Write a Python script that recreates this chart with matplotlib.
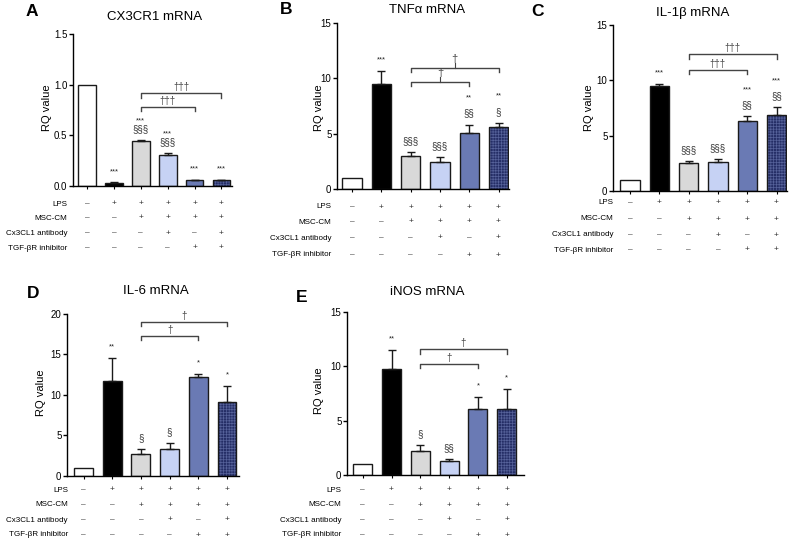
import matplotlib
matplotlib.use("Agg")
import matplotlib.pyplot as plt
import matplotlib.transforms as mtransforms

plt.rcParams['font.family'] = ['Liberation Sans', 'DejaVu Sans']
plt.rcParams['hatch.linewidth'] = 0.5

W, H = 793, 542

# condition table below every panel
row_labels = ["LPS", "MSC-CM", "Cx3CL1 antibody", "TGF-\u03b2R inhibitor"]
lps = ["\u2013", "+", "+", "+", "+", "+"]
msc_cm = ["\u2013", "\u2013", "+", "+", "+", "+"]
cx3cl1_ab = ["\u2013", "\u2013", "\u2013", "+", "\u2013", "+"]
tgfbr_inh = ["\u2013", "\u2013", "\u2013", "\u2013", "+", "+"]
table_rows = [lps, msc_cm, cx3cl1_ab, tgfbr_inh]

bar_colors = ["white", "black", "#d9d9d9", "#c6d2f4", "#6a7ab4", "#252e66"]

# A: CX3CR1
cx3cr1_mean = [1.0, 0.03, 0.445, 0.305, 0.06, 0.06]
cx3cr1_err = [0, 0.005, 0.008, 0.02, 0.004, 0.004]
cx3cr1_stars = ["", "***", "***", "***", "***", "***"]
cx3cr1_sect = ["", "", "\u00a7\u00a7\u00a7", "\u00a7\u00a7\u00a7", "", ""]
cx3cr1_brackets = [(2, 4, 0.78, "\u2020\u2020\u2020"), (2, 5, 0.915, "\u2020\u2020\u2020")]

# B: TNFa
tnf_mean = [1.0, 9.5, 2.95, 2.45, 5.1, 5.6]
tnf_err = [0, 1.17, 0.36, 0.4, 0.72, 0.39]
tnf_stars = ["", "***", "", "", "**", "**"]
tnf_sect = ["", "", "\u00a7\u00a7\u00a7", "\u00a7\u00a7\u00a7", "\u00a7\u00a7", "\u00a7"]
tnf_brackets = [(2, 4, 9.7, "\u2020"), (2, 5, 10.96, "\u2020")]

# C: IL-1b
il1b_mean = [1.0, 9.45, 2.5, 2.65, 6.3, 6.85]
il1b_err = [0, 0.18, 0.2, 0.2, 0.45, 0.7]
il1b_stars = ["", "***", "", "", "***", "***"]
il1b_sect = ["", "", "\u00a7\u00a7\u00a7", "\u00a7\u00a7\u00a7", "\u00a7\u00a7", "\u00a7\u00a7"]
il1b_brackets = [(2, 4, 10.93, "\u2020\u2020\u2020"), (2, 5, 12.35, "\u2020\u2020\u2020")]

# D: IL-6
il6_mean = [1.0, 11.7, 2.7, 3.25, 12.25, 9.15]
il6_err = [0, 2.9, 0.6, 0.8, 0.35, 1.9]
il6_stars = ["", "**", "", "", "*", "*"]
il6_sect = ["", "", "\u00a7", "\u00a7", "", ""]
il6_brackets = [(2, 4, 17.3, "\u2020"), (2, 5, 19.05, "\u2020")]

# E: iNOS
inos_mean = [1.0, 9.7, 2.2, 1.32, 6.05, 6.1]
inos_err = [0, 1.75, 0.58, 0.18, 1.13, 1.83]
inos_stars = ["", "**", "", "", "*", "*"]
inos_sect = ["", "", "\u00a7", "\u00a7\u00a7", "", ""]
inos_brackets = [(2, 4, 10.24, "\u2020"), (2, 5, 11.53, "\u2020")]

# layout in pixels: axis left, axis right, first bar centre, bar spacing,
# y of zero, y of top, top value, ticks, title, letter, ylabel, table rows, label right edge
panels = [
    dict(letter="A", title="CX3CR1 mRNA", mean=cx3cr1_mean, err=cx3cr1_err,
         stars=cx3cr1_stars, sect=cx3cr1_sect, brackets=cx3cr1_brackets,
         L=73, R=232, c0=87, sp=26.9, y0=186, yt=34, ymax=1.5,
         yticks=[0.0, 0.5, 1.0, 1.5], fmt="{:.1f}", star_gap=8,
         title_xy=(155, 17), letter_xy=(32, 11), ylab_xy=(47, 108),
         rows_y=[204, 218, 233, 248], lab_x=67),
    dict(letter="B", title="TNF\u03b1 mRNA", mean=tnf_mean, err=tnf_err,
         stars=tnf_stars, sect=tnf_sect, brackets=tnf_brackets, stem=True,
         L=337, R=509, c0=352, sp=29.3, y0=189, yt=23, ymax=15,
         yticks=[0, 5, 10, 15], fmt="{:.0f}", star_gap=16,
         title_xy=(427, 10), letter_xy=(286, 9), ylab_xy=(319, 108),
         rows_y=[207, 222, 238, 255], lab_x=331),
    dict(letter="C", title="IL-1\u03b2 mRNA", mean=il1b_mean, err=il1b_err,
         stars=il1b_stars, sect=il1b_sect, brackets=il1b_brackets,
         L=613, R=787, c0=630, sp=29.3, y0=191, yt=24.7, ymax=15,
         yticks=[0, 5, 10, 15], fmt="{:.0f}", star_gap=15,
         title_xy=(693, 13), letter_xy=(538, 11), ylab_xy=(589, 108),
         rows_y=[203, 219, 235, 250], lab_x=613),
    dict(letter="D", title="IL-6 mRNA", mean=il6_mean, err=il6_err,
         stars=il6_stars, sect=il6_sect, brackets=il6_brackets,
         L=67, R=239, c0=83.5, sp=28.7, y0=475.7, yt=314, ymax=20,
         yticks=[0, 5, 10, 15, 20], fmt="{:.0f}", star_gap=15,
         title_xy=(156, 291), letter_xy=(33, 294), ylab_xy=(41, 393),
         rows_y=[490, 505, 520, 535], lab_x=68),
    dict(letter="E", title="iNOS mRNA", mean=inos_mean, err=inos_err,
         stars=inos_stars, sect=inos_sect, brackets=inos_brackets,
         L=347, R=524, c0=362.7, sp=28.8, y0=475, yt=311.7, ymax=15,
         yticks=[0, 5, 10, 15], fmt="{:.0f}", star_gap=15,
         title_xy=(427, 292), letter_xy=(302, 297), ylab_xy=(319, 391),
         rows_y=[490, 505, 520, 535], lab_x=341),
]

fig = plt.figure(figsize=(W / 100, H / 100), dpi=100)
PT = 0.72  # points per pixel


def draw_panel(p):
    ax = fig.add_axes([p["L"] / W, 1 - p["y0"] / H,
                       (p["R"] - p["L"]) / W, (p["y0"] - p["yt"]) / H])
    ax.set_xlim((p["L"] - p["c0"]) / p["sp"], (p["R"] - p["c0"]) / p["sp"])
    ax.set_ylim(0, p["ymax"])
    ppu = (p["y0"] - p["yt"]) / p["ymax"]  # pixels per unit
    x = list(range(len(p["mean"])))
    width = 0.66

    for i in x:
        if i == 5:
            ax.bar(i, p["mean"][i], width, color=bar_colors[i], edgecolor="#56629a",
                   hatch="++++++", linewidth=0, zorder=2)
            ax.bar(i, p["mean"][i], width, fill=False, edgecolor="#1a1a1a",
                   linewidth=1, zorder=3)
        else:
            ax.bar(i, p["mean"][i], width, color=bar_colors[i], edgecolor="#1a1a1a",
                   linewidth=1, zorder=2)

    xe = [i for i in x if p["err"][i] > 0]
    me = [p["mean"][i] for i in xe]
    ee = [p["err"][i] for i in xe]
    ax.errorbar(xe, me, yerr=[[0] * len(ee), ee], fmt="none", ecolor="#1a1a1a",
                elinewidth=1, capsize=3, capthick=1, zorder=4)

    # significance marks
    for i in x:
        top = p["mean"][i] + p["err"][i]
        off = 11
        if p["sect"][i]:
            ax.annotate(p["sect"][i], (i, top), xytext=(0, off * PT),
                        textcoords="offset points", ha="center", va="center",
                        fontsize=7, color="#333333")
            off += p["star_gap"]
        if p["stars"][i]:
            ax.annotate(p["stars"][i], (i, top), xytext=(0, off * PT),
                        textcoords="offset points", ha="center", va="center",
                        fontsize=5.5, color="#222222")

    # comparison brackets
    drop = 4.5 / ppu
    for a, b, lvl, lab in p["brackets"]:
        ax.plot([a, a, b, b], [lvl - drop, lvl, lvl, lvl - drop], color="#444444",
                lw=1, clip_on=False, zorder=5)
        mid = (a + b) / 2
        if p.get("stem"):
            ax.plot([mid, mid], [lvl, lvl + 5 / ppu], color="#444444", lw=0.8,
                    clip_on=False)
            ax.text(mid, lvl + 4 / ppu, lab, ha="center", va="bottom",
                    fontsize=8, color="#444444")
        else:
            ax.text(mid, lvl + 1 / ppu, lab, ha="center", va="bottom",
                    fontsize=7, color="#444444")

    for s in ["top", "right"]:
        ax.spines[s].set_visible(False)
    for s in ["left", "bottom"]:
        ax.spines[s].set_linewidth(1)
    ax.set_yticks(p["yticks"])
    ax.set_yticklabels([p["fmt"].format(v) for v in p["yticks"]])
    ax.set_xticks(x)
    ax.set_xticklabels([])
    ax.tick_params(axis="y", direction="out", length=3, width=1, labelsize=7, pad=1)
    ax.tick_params(axis="x", direction="out", length=2.5, width=0.8)

    fig.text(p["title_xy"][0] / W, 1 - p["title_xy"][1] / H, p["title"],
             ha="center", va="center", fontsize=9.5)
    fig.text(p["letter_xy"][0] / W, 1 - p["letter_xy"][1] / H, p["letter"],
             ha="center", va="center", fontsize=12.5, fontweight="bold")
    fig.text(p["ylab_xy"][0] / W, 1 - p["ylab_xy"][1] / H, "RQ value",
             ha="center", va="center", rotation=90, fontsize=8)

    trans = mtransforms.blended_transform_factory(ax.transData, fig.transFigure)
    for r, row in enumerate(table_rows):
        yf = 1 - p["rows_y"][r] / H
        fig.text(p["lab_x"] / W, yf, row_labels[r], ha="right", va="center",
                 fontsize=5.8)
        for i, sign in enumerate(row):
            ax.text(i, yf, sign, transform=trans, ha="center", va="center",
                    fontsize=6, color="#333333")
    return ax


for p in panels:
    draw_panel(p)

fig.savefig("out.png", dpi=100)
